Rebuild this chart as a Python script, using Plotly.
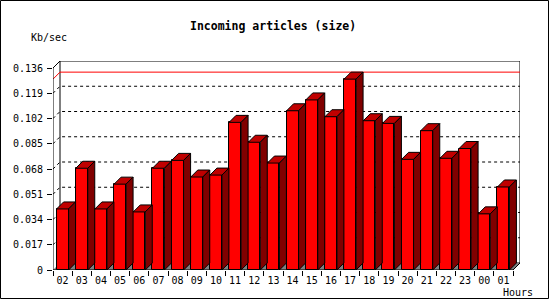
import plotly.graph_objects as go

hours = ["02", "03", "04", "05", "06", "07", "08", "09", "10", "11", "12", "13",
         "14", "15", "16", "17", "18", "19", "20", "21", "22", "23", "00", "01"]
values = [0.0411, 0.0685, 0.0411, 0.0578, 0.0391, 0.0685, 0.0738, 0.0626,
          0.0639, 0.0994, 0.0860, 0.0720, 0.1072, 0.1145, 0.1032, 0.1285,
          0.1005, 0.0987, 0.0745, 0.0938, 0.0752, 0.0818, 0.0378, 0.0559]
y_ticks = [0, 0.017, 0.034, 0.051, 0.068, 0.085, 0.102, 0.119, 0.136]
y_labels = ["0", "0.017", "0.034", "0.051", "0.068", "0.085", "0.102", "0.119", "0.136"]

W, H = 550, 300
L, R, T, B = 53, 30, 61, 30
depth = 7
n = len(hours)
pw = W - L - R
ph = H - T - B
slot = (pw - depth) / n
dx = depth / slot
ymax = y_ticks[-1]
ppy = (ph - depth) / ymax
dy = depth / ppy
bw = 12 / slot
peak = max(values)

FONT = "DejaVu Sans Mono"

tops_x, tops_y, side_x, side_y = [], [], [], []
for i, v in enumerate(values):
    xl, xr = i - bw / 2, i + bw / 2
    tops_x += [xl, xl + dx, xr + dx, xr, xl, None]
    tops_y += [v, v + dy, v + dy, v, v, None]
    side_x += [xr, xr, xr + dx, xr + dx, xr, None]
    side_y += [0, v, v + dy, dy, 0, None]

fig = go.Figure()
fig.add_trace(go.Bar(x=list(range(n)), y=values, width=bw,
                     marker=dict(color="#FF0000", line=dict(color="black", width=1)),
                     hoverinfo="skip", showlegend=False))
fig.add_trace(go.Scatter(x=tops_x, y=tops_y, mode="lines", fill="toself",
                         fillcolor="#C00000", line=dict(color="black", width=1),
                         hoverinfo="skip", showlegend=False))
fig.add_trace(go.Scatter(x=side_x, y=side_y, mode="lines", fill="toself",
                         fillcolor="#800000", line=dict(color="black", width=1),
                         hoverinfo="skip", showlegend=False))

x0, x1 = -0.5, n - 0.5
shapes = []
# back wall
shapes.append(dict(type="rect", layer="below", xref="x", yref="y",
                   x0=x0 + dx, x1=x1 + dx, y0=dy, y1=ymax + dy,
                   line=dict(color="black", width=1), fillcolor="white"))
# floor
shapes.append(dict(type="path", layer="below", xref="x", yref="y",
                   path=f"M {x0},0 L {x0+dx},{dy} L {x1+dx},{dy} L {x1},0 Z",
                   fillcolor="#808080", line=dict(width=0)))
# grid lines
for t in y_ticks[1:-1]:
    shapes.append(dict(type="path", layer="below", xref="x", yref="y",
                       path=f"M {x0},{t} L {x0+dx},{t+dy} L {x1+dx},{t+dy}",
                       line=dict(color="black", width=1, dash="dot")))
# peak line
shapes.append(dict(type="path", layer="below", xref="x", yref="y",
                   path=f"M {x0},{peak} L {x0+dx},{peak+dy} L {x1+dx},{peak+dy}",
                   line=dict(color="#FF0000", width=1)))
# front axes
shapes.append(dict(type="path", layer="above", xref="x", yref="y",
                   path=f"M {x0+dx},{ymax+dy} L {x0},{ymax} L {x0},0 L {x1},0 L {x1+dx},{dy}",
                   line=dict(color="black", width=1)))
# outer border
def px(xp):
    return (xp - L) / pw
def py(yp):
    return 1 - (yp - T) / ph
shapes.append(dict(type="rect", layer="above", xref="paper", yref="paper",
                   x0=px(0.5), x1=px(548.5), y0=py(0.5), y1=py(298.5),
                   line=dict(color="black", width=1)))

annotations = [
    dict(text="<b>Incoming articles (size)</b>", xref="paper", yref="paper",
         x=px(273), y=py(26), xanchor="center", yanchor="middle", showarrow=False,
         font=dict(family=FONT, size=11.5, color="black")),
    dict(text="Kb/sec", xref="paper", yref="paper", x=px(29), y=py(37),
         xanchor="left", yanchor="middle", showarrow=False,
         font=dict(family=FONT, size=10, color="black")),
    dict(text="Hours", xref="paper", yref="paper", x=px(535), y=py(292),
         xanchor="right", yanchor="middle", showarrow=False,
         font=dict(family=FONT, size=10, color="black")),
]

fig.update_layout(
    width=W, height=H, margin=dict(l=L, r=R, t=T, b=B, pad=0),
    paper_bgcolor="white", plot_bgcolor="white",
    shapes=shapes, annotations=annotations, bargap=0, showlegend=False,
    xaxis=dict(range=[x0, x1 + dx], showgrid=False, zeroline=False, showline=False,
               tickmode="array", tickvals=list(range(n)), ticktext=hours, ticks="",
               ticklabelstandoff=3,
               tickfont=dict(family=FONT, size=10, color="black"),
               minor=dict(tickmode="array", tickvals=[i - 0.5 for i in range(n + 1)],
                          ticks="outside", ticklen=5, tickcolor="black", showgrid=False),
               fixedrange=True),
    yaxis=dict(range=[0, ymax + dy], showgrid=False, zeroline=False, showline=False,
               tickmode="array", tickvals=y_ticks, ticktext=y_labels, ticks="outside",
               ticklen=5, tickcolor="black", ticklabelstandoff=2,
               tickfont=dict(family=FONT, size=10, color="black"), fixedrange=True),
)

fig.write_html("out.html")
